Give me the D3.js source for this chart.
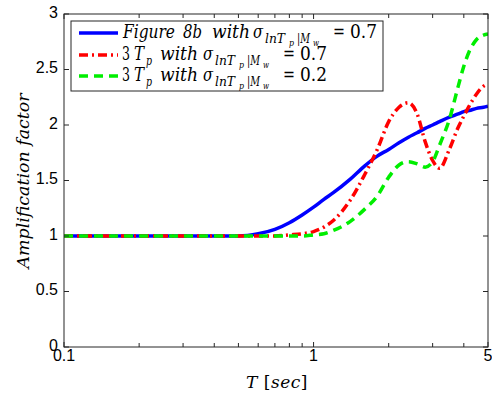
<!DOCTYPE html>
<html><head><meta charset="utf-8">
<script src="https://cdn.jsdelivr.net/npm/d3@7"></script>
<style>body{margin:0;background:#fff}svg{display:block}</style>
</head><body><svg id="c" width="492" height="394"></svg>
<script>
const periods = [0.1,0.2,0.3,0.4,0.5,0.6,0.7,0.8,0.9,1.0,1.1,1.2,1.4,1.6,1.8,2.0,2.2,2.4,2.6,2.8,3.0,3.2,3.5,3.8,4.0,4.2,4.5,4.8,5.0];
const fig8b   = [1,1,1,1,1.0,1.02,1.06,1.12,1.19,1.26,1.33,1.39,1.51,1.63,1.72,1.78,1.84,1.89,1.93,1.97,2.00,2.03,2.07,2.10,2.12,2.13,2.15,2.16,2.17];
const tp07    = [1,1,1,1,1,1,1,1.01,1.02,1.04,1.08,1.14,1.32,1.55,1.78,2.03,2.16,2.2,2.1,1.85,1.68,1.61,1.78,1.98,2.08,2.17,2.28,2.35,2.37];
const tp02    = [1,1,1,1,1,1,1,1,1,1.01,1.02,1.05,1.13,1.24,1.36,1.53,1.64,1.67,1.65,1.62,1.67,1.82,2.05,2.35,2.53,2.66,2.77,2.81,2.82];
const yTicks = [0,0.5,1,1.5,2,2.5,3];
const yTickLabels = ["0","0.5","1","1.5","2","2.5","3"];
const xTicks = [0.1,1,5];
const xTickLabels = ["0.1","1","5"];
const xMinor = [0.2,0.3,0.4,0.5,0.6,0.7,0.8,0.9,2,3,4];
const legendValues = ["0.7","0.7","0.2"];

const svg = d3.select("#c");
const L=64,R=488,T=14,B=347;
const x = d3.scaleLog().domain([0.1,5]).range([L,R]);
const y = d3.scaleLinear().domain([0,3]).range([B,T]);
const axCol="#262626";

const series = [
  {v:fig8b, color:"#0000ff", dash:null},
  {v:tp07, color:"#ff0000", dash:"9,4,2,4"},
  {v:tp02, color:"#00ee00", dash:"9,6"}
];
const line = d3.line().x(d=>x(d[0])).y(d=>y(d[1])).curve(d3.curveMonotoneX);
const g = svg.append("g");
g.append("defs").append("clipPath").attr("id","clip").append("rect")
  .attr("x",L).attr("y",T).attr("width",R-L).attr("height",B-T);
series.forEach(s=>{
  g.append("path").attr("clip-path","url(#clip)")
   .datum(periods.map((p,i)=>[p,s.v[i]]))
   .attr("d",line).attr("fill","none").attr("stroke",s.color)
   .attr("stroke-width",3.5).attr("stroke-dasharray",s.dash);
});

// axes
const fs = 16, font = "Liberation Sans, Arial, sans-serif";
const ax = svg.append("g").attr("stroke",axCol).attr("stroke-width",1);
ax.append("rect").attr("x",L).attr("y",T).attr("width",R-L).attr("height",B-T).attr("fill","none");
yTicks.forEach((t,i)=>{
  ax.append("line").attr("x1",L).attr("x2",L+5).attr("y1",y(t)).attr("y2",y(t));
  ax.append("line").attr("x1",R).attr("x2",R-5).attr("y1",y(t)).attr("y2",y(t));
  svg.append("text").attr("x",L-6).attr("y",y(t)-2).attr("dy","0.36em").attr("text-anchor","end")
    .attr("font-family",font).attr("font-size",fs).attr("fill","#000").text(yTickLabels[i]);
});
xTicks.concat(xMinor).forEach(t=>{
  const len = xTicks.includes(t)?5:4;
  ax.append("line").attr("x1",x(t)).attr("x2",x(t)).attr("y1",B).attr("y2",B-len);
  ax.append("line").attr("x1",x(t)).attr("x2",x(t)).attr("y1",T).attr("y2",T+len);
});
xTicks.forEach((t,i)=>{
  svg.append("text").attr("x",x(t)).attr("y",361).attr("text-anchor","middle")
    .attr("font-family",font).attr("font-size",fs).attr("fill","#000").text(xTickLabels[i]);
});

// axis labels
const ser = "'DejaVu Serif', 'Noto Serif', serif";
const xl = svg.append("text").attr("x",277).attr("y",388).attr("text-anchor","middle")
  .attr("font-family",ser).attr("font-size",17).attr("fill","#000").attr("letter-spacing",0.5);
xl.append("tspan").attr("font-style","italic").text("T ");
xl.append("tspan").text("[");
xl.append("tspan").attr("font-style","italic").text("sec");
xl.append("tspan").text("]");
svg.append("text").attr("transform","translate(29,181) rotate(-90)").attr("text-anchor","middle")
  .attr("font-family",ser).attr("font-size",17).attr("font-style","italic")
  .attr("textLength",175).attr("lengthAdjust","spacingAndGlyphs")
  .attr("fill","#000").text("Amplification factor");

// legend
const leg = svg.append("g");
leg.append("rect").attr("x",71).attr("y",21).attr("width",312).attr("height",70)
  .attr("fill","#fff").attr("stroke",axCol).attr("stroke-width",1);
const rowY=[33,55,76];
function seg(yb, txt, x0, w, size, italic, dy){
  leg.append("text").attr("x",x0).attr("y",yb+(dy||0))
    .attr("font-family",ser).attr("font-size",size).attr("fill","#000")
    .attr("font-style",italic?"italic":"normal")
    .attr("textLength",w).attr("lengthAdjust","spacingAndGlyphs").text(txt);
}
function sigma(yb, x0, val){
  seg(yb,"σ",x0,10,18,true);
  seg(yb,"lnT",x0+12,20,12,true,5);
  seg(yb,"p",x0+36,5,9,true,8);
  seg(yb,"|M",x0+44,13,12,true,5);
  seg(yb,"w",x0+60,6,9,true,8);
  seg(yb,"=",x0+80,12,18,false);
  seg(yb,val,x0+97,27,18,false);
}
series.forEach((s,i)=>{
  leg.append("line").attr("x1",79).attr("x2",118).attr("y1",rowY[i]).attr("y2",rowY[i])
    .attr("stroke",s.color).attr("stroke-width",3.5).attr("stroke-dasharray",s.dash);
  const yb = rowY[i]+5;
  if(i===0){
    seg(yb,"Figure",123,52,18,true);
    seg(yb,"8b",183,19,18,true);
    seg(yb,"with",212,38,18,true);
    sigma(yb,253,legendValues[i]);
  } else {
    seg(yb,"3",122,8,18,false);
    seg(yb,"T",134,10,18,true);
    seg(yb,"p",146,6,12,true,5);
    seg(yb,"with",160,38,18,true);
    sigma(yb,203,legendValues[i]);
  }
});
</script></body></html>
